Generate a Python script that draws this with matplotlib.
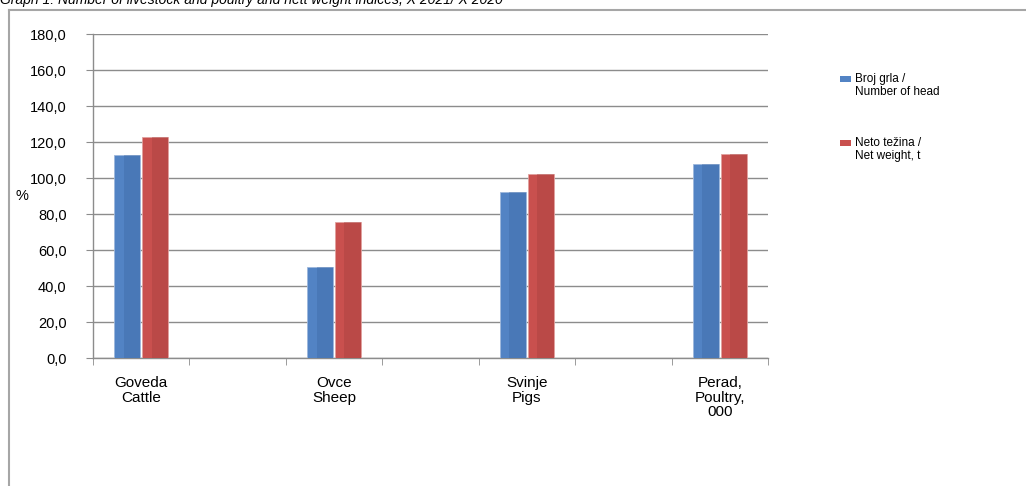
import matplotlib
matplotlib.use("Agg")
import matplotlib.pyplot as plt
import numpy as np
from matplotlib.patches import Rectangle
from matplotlib.lines import Line2D

plt.rcParams['font.family'] = ['Liberation Sans', 'DejaVu Sans']

title = "Graph 1: Number of livestock and poultry and nett weight indices, X 2021/ X 2020"
categories = ["Goveda\nCattle", "", "Ovce\nSheep", "", "Svinje\nPigs", "", "Perad,\nPoultry,\n000"]
head = [112.8, np.nan, 50.4, np.nan, 92.0, np.nan, 107.8]
weight = [122.9, np.nan, 75.7, np.nan, 102.0, np.nan, 113.2]
series_labels = ["Broj grla /\nNumber of head", "Neto težina /\nNet weight, t"]
yticks = [0, 20, 40, 60, 80, 100, 120, 140, 160, 180]

W, H = 1026, 486
fig = plt.figure(figsize=(W / 100, H / 100), dpi=100)

def fx(px):
    return px / W

def fy(py):
    return 1 - py / H

ax = fig.add_axes([fx(93), fy(358), fx(768) - fx(93), fy(34) - fy(358)])

x = np.arange(len(categories))
bw = 0.265
off = 0.145
blue, blue_d = "#5283c4", "#3b65a0"
red, red_d = "#c9504e", "#a03c3a"

ax.bar(x - off, head, bw, color=blue, edgecolor="#9db7dc", linewidth=0.6, zorder=3)
ax.bar(x - off + bw * 0.18, head, bw * 0.64, color=blue_d, alpha=0.35, linewidth=0, zorder=4)
ax.bar(x + off, weight, bw, color=red, edgecolor="#e0a09e", linewidth=0.6, zorder=3)
ax.bar(x + off + bw * 0.18, weight, bw * 0.64, color=red_d, alpha=0.35, linewidth=0, zorder=4)

ax.set_xlim(-0.5, len(categories) - 0.5)
ax.set_ylim(0, 180)
ax.set_yticks(yticks)
ax.set_yticklabels([f"{v:.1f}".replace(".", ",") for v in yticks], fontsize=10.5)
ax.yaxis.grid(True, color="#8c8c8c", linewidth=1.0, zorder=0)
ax.set_axisbelow(True)

ax.set_xticks(x)
ax.set_xticklabels(categories, fontsize=11, linespacing=1.05)
ax.set_xticks(np.arange(-0.5, len(categories)), minor=True)
ax.tick_params(axis="x", which="major", length=0, pad=13)
ax.tick_params(axis="x", which="minor", length=5, color="#8c8c8c", direction="out")
ax.tick_params(axis="y", length=5, color="#8c8c8c", pad=14, direction="out")

for s in ["top", "right"]:
    ax.spines[s].set_visible(False)
for s in ["left", "bottom"]:
    ax.spines[s].set_color("#8c8c8c")
    ax.spines[s].set_linewidth(1.0)

fig.text(fx(16), fy(196), "%", fontsize=10.5, ha="left", va="center")

# outer frame
fig.add_artist(Line2D([fx(9), fx(9)], [fy(10), 0], color="#a6a6a6", linewidth=1.5))
fig.add_artist(Line2D([fx(9), 1], [fy(10), fy(10)], color="#a6a6a6", linewidth=1.5))

# title (clipped at top, as in the reference)
fig.text(fx(0), fy(4), title, fontsize=10, style="italic", ha="left", va="baseline")

# legend
for (py, col, lab) in [(79, blue, series_labels[0]), (143, red, series_labels[1])]:
    fig.add_artist(Rectangle((fx(840), fy(py + 3)), fx(11), fy(py - 3) - fy(py + 3),
                             facecolor=col, edgecolor="none", transform=fig.transFigure))
    fig.text(fx(855), fy(py - 6), lab, fontsize=8.5, ha="left", va="top", linespacing=1.15)

fig.savefig("out.png", dpi=100)
